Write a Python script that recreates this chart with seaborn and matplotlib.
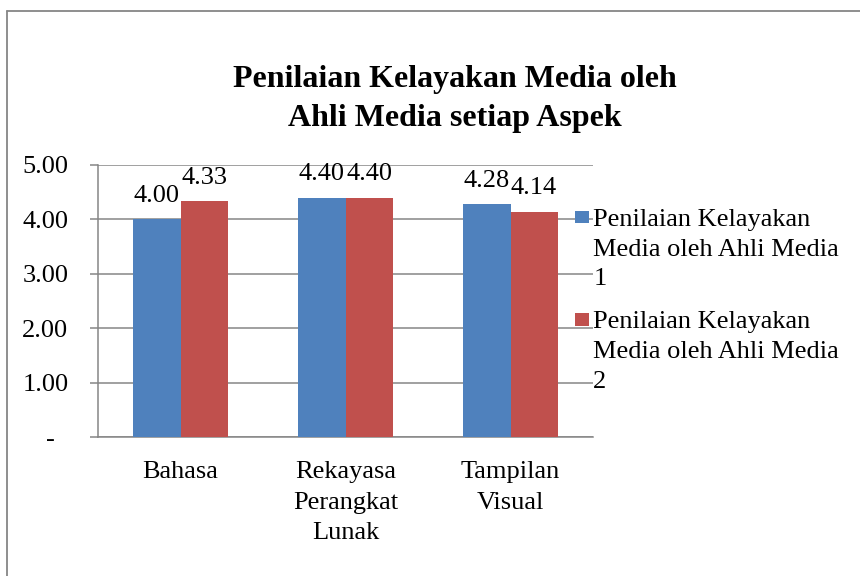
import textwrap

import numpy as np
import pandas as pd
import matplotlib
matplotlib.use("Agg")
import matplotlib.pyplot as plt
from matplotlib.lines import Line2D
from matplotlib.patches import Rectangle
from matplotlib.legend_handler import HandlerPatch
from matplotlib.font_manager import FontProperties
import seaborn as sns

# data
aspects = ["Bahasa", "Rekayasa Perangkat Lunak", "Tampilan Visual"]
series = ["Penilaian Kelayakan Media oleh Ahli Media 1",
          "Penilaian Kelayakan Media oleh Ahli Media 2"]
ahli_1 = [4.00, 4.40, 4.28]
ahli_2 = [4.33, 4.40, 4.14]
y_ticks = [0, 1, 2, 3, 4, 5]
title = "Penilaian Kelayakan Media oleh\nAhli Media setiap Aspek"

colors = ["#4F81BD", "#C0504D"]
grey = "#868686"
FS = 19
TITLE_FS = 23
W, H, DPI = 860, 576, 100

df = pd.DataFrame({
    "Aspek": aspects * 2,
    "Penilai": [series[0]] * 3 + [series[1]] * 3,
    "Skor": ahli_1 + ahli_2,
})

sns.set_style("white")
plt.rcParams["font.family"] = ["Liberation Serif", "DejaVu Serif"]
plt.rcParams["text.color"] = "black"
plt.rcParams["xtick.labelcolor"] = "black"
plt.rcParams["ytick.labelcolor"] = "black"

fig = plt.figure(figsize=(W / DPI, H / DPI), dpi=DPI)
renderer = fig.canvas.get_renderer()


def lp_metrics(size, weight="normal"):
    fp = FontProperties(family="Liberation Serif", size=size, weight=weight)
    _, h, d = renderer.get_text_width_height_descent("lp", fp, ismath=False)
    return h - d, d  # ascent, descent in pixels


asc, desc = lp_metrics(FS)
t_asc, t_desc = lp_metrics(TITLE_FS, "bold")
fs_px = FS * DPI / 72


def spacing_for(step_px, a, d):
    # matplotlib puts baselines (d + a * linespacing) apart
    return (step_px - d) / a


# pixel positions measured on the reference (from the top-left corner)
ax_left, ax_right, ax_top, ax_bottom = 98, 593, 165, 437.3

ax = fig.add_axes([ax_left / W, 1 - ax_bottom / H,
                   (ax_right - ax_left) / W, (ax_bottom - ax_top) / H])

sns.barplot(data=df, x="Aspek", y="Skor", hue="Penilai", order=aspects,
            hue_order=series, palette=colors, saturation=1, width=0.57,
            linewidth=0, ax=ax, legend=False, zorder=3)

for cont in ax.containers:
    ax.bar_label(cont, fmt="%.2f", padding=(17.7 - desc) * 72 / DPI, fontsize=FS)

ax.set_xlim(-0.5, len(aspects) - 0.5)
ax.set_ylim(0, 5)
ax.set_yticks(y_ticks)
ax.set_yticklabels(["-  " if v == 0 else f"{v:.2f}" for v in y_ticks], fontsize=FS)
ax.yaxis.grid(True, color=grey, linewidth=1.1, zorder=0)
ax.set_axisbelow(True)

ax.set_xticks(range(len(aspects)))
ax.set_xticklabels([textwrap.fill(a, 9) for a in aspects], fontsize=FS,
                   linespacing=spacing_for(30.5, asc, desc))
ax.set_xticks(np.arange(-0.5, len(aspects)), minor=True)
ax.tick_params(axis="x", which="major", length=0,
               pad=(478.3 - asc - ax_bottom) * 72 / DPI)
ax.tick_params(axis="x", which="minor", length=6, width=1.1, color=grey,
               direction="out")
ax.tick_params(axis="y", length=5.8, width=1.1, color=grey, direction="out",
               pad=15.5, left=True)
ax.set_xlabel("")
ax.set_ylabel("")

for side in ["top", "right"]:
    ax.spines[side].set_visible(False)
for side in ["left", "bottom"]:
    ax.spines[side].set_color(grey)
    ax.spines[side].set_linewidth(1.1)

# legend: square 14x12.6 px, text baseline 226 px, next entry 102 px lower
mk_w, mk_h = 14.3, 12.6
leg_step = 29.7


def square(legend, orig_handle, xdescent, ydescent, width, height, fontsize):
    return Rectangle((-xdescent, -ydescent), width, mk_h * 72 / DPI)


handles = [Rectangle((0, 0), 1, 1, facecolor=c, edgecolor="none") for c in colors]
gap = 102.3 - 2 * leg_step - (asc + desc)
leg = ax.legend(handles, [textwrap.fill(s, 21) for s in series],
                loc="upper left",
                bbox_to_anchor=(575 / W, 1 - (226 - asc) / H),
                bbox_transform=fig.transFigure, frameon=False, fontsize=FS,
                borderpad=0, borderaxespad=0, handlelength=mk_w / fs_px,
                handleheight=0.45, handletextpad=4 / fs_px,
                labelspacing=gap / fs_px,
                handler_map={Rectangle: HandlerPatch(patch_func=square)})
for t in leg.get_texts():
    t.set_linespacing(spacing_for(leg_step, asc, desc))
    t.set_color("black")

fig.text(455 / W, 1 - (86.7 - t_asc) / H, title, ha="center", va="top",
         fontsize=TITLE_FS, fontweight="bold", color="black",
         linespacing=spacing_for(39.3, t_asc, t_desc))

# outer chart-area border (only left and top edges are inside the crop)
fig.add_artist(Line2D([7 / W, 7 / W], [0, 1 - 11 / H], color=grey,
                      linewidth=1.3, transform=fig.transFigure))
fig.add_artist(Line2D([7 / W, 1], [1 - 11 / H, 1 - 11 / H], color=grey,
                      linewidth=1.3, transform=fig.transFigure))

# Excel puts the legend square on the first line of a wrapped label
fig.canvas.draw()
for patch, text in zip(leg.get_patches(), leg.get_texts()):
    tb = text.get_window_extent(renderer)
    pb = patch.get_window_extent(renderer)
    first_baseline = tb.y1 - asc
    dy = (first_baseline + 2.7) - pb.y0
    dx = 575 - pb.x0
    patch.set_y(patch.get_y() + dy * 72 / DPI)
    patch.set_x(patch.get_x() + dx * 72 / DPI)

fig.savefig("out.png", dpi=DPI)
